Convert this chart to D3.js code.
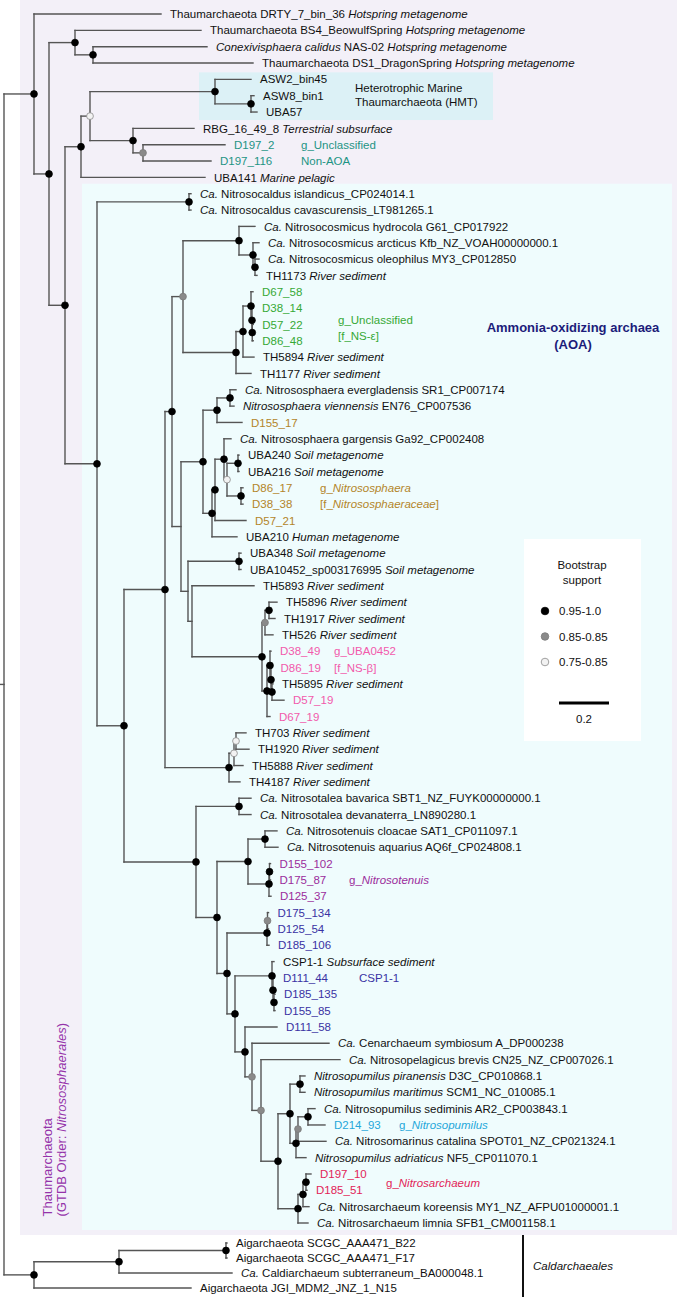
<!DOCTYPE html>
<html><head><meta charset="utf-8">
<script src="https://cdn.jsdelivr.net/npm/d3@7"></script>
<style>
body{margin:0;background:#fff}
svg{display:block}
text{font-family:"Liberation Sans",Arial,sans-serif}
</style>
</head><body>
<svg id="c" width="685" height="1297"></svg>
<script>
// ---------------- DATA ----------------
// Tree topology (Newick). Leaf names are indices into leafNames; internal labels = bootstrap class
// B = 0.95-1.0, G = 0.85-0.85, W = 0.75-0.85
const cladeN2   = "(1:0.504,(2:0.456,3:0.64)B:0.072)B:0.104";
const cladeHMT  = "(4:0.144,(5:0.012,6:0.024)B:0.144)B:0.5";
const cladeRBG  = "(7:0.244,(8:0.328,9:0.272)G:0.04)B:0.172";
const cladeN4   = `((${cladeHMT},${cladeRBG})W:0.036,10:0.496)B:0.064`;
const cladeNC   = "(13:0.064,(14:0.024,(15:0.016,16:0.008)B:0.008)B:0.056)B:0.224";
const cladeNS   = "(((17:0.008,(18:0.004,(19:0.004,20:0.004)B:0.001)B:0.004)B:0.032,21:0.044)B:0.028,22:0.06)B:0.212";
const cladeG1   = `(${cladeNC},${cladeNS})G:0.044`;
const clade217  = "((23:0.024,24:0.016)B:0.052,25:0.1)B:0.056";
const clade212  = "(((26:0.028,((27:0.004,28:0.004)B:0.044,(29:0.008,30:0.008)B:0.056)W:0.012)B:0.036,31:0.124)B:0.012,32:0.1)B:0.036";
const cladeP1   = "((39:0.004,(40:0.002,(41:0.004,42:0.048)B:0.004)B:0.004)B:0.012,43:0.012)B:0.02";
const cladeH    = `(((36:0.032,37:0.024)B:0.016,38:0.032)G:0.012,${cladeP1})B:0.28`;
const cladeE    = `((33:0.008,34:0.008)B:0.204,(35:0.248,${cladeH}):0.016):0.028`;
const cladeD    = `((${clade217},${clade212})B:0.088,${cladeE}):0.036`;
const cladeC    = `(${cladeG1},${cladeD})B:0.028`;
const cladeTH   = "(((44:0.04,45:0.052)W:0.008,46:0.036)W:0.02,47:0.044)B:0.256";
const cladeK    = "((50:0.048,51:0.052)B:0.068,((52:0.004,53:0.004)B:0.002,54:0.008)B:0.084)B:0.124";
const cladeBK   = "((55:0.004,56:0.004)G:0.002,57:0.008)B:0.16";
const cladeCSP  = "(58:0.008,(59:0.004,(60:0.004,61:0.004)B:0.004)B:0.004)B:0.148";
const cladeS    = "((65:0.02,66:0.02)B:0.04,(((67:0.028,68:0.068)B:0.04,69:0.112)G:0.008,70:0.04)B:0.024)B:0.048";
const cladeV    = "(((71:0.02,72:0.004)B:0.012,73:0.024)B:0.02,74:0.04)B:0.08";
const cladeO    = `(63:0.308,(64:0.316,(${cladeS},${cladeV})B:0.068)G:0.036)G:0.028`;
const cladeL    = `(${cladeBK},(${cladeCSP},(62:0.128,${cladeO})B:0.04)B:0.032)B:0.04`;
const cladeI    = `((48:0.048,49:0.048)B:0.172,(${cladeK},${cladeL})B:0.084)B:0.288`;
const cladeA1   = `((${cladeC},${cladeTH})B:0.164,${cladeI})B:0.108`;
const cladeA0   = `((11:0.008,12:0.008)B:0.368,${cladeA1})B:0.128`;
const cladeT    = `(0:0.508,(${cladeN2},(${cladeN4},${cladeA0})B:0.064)B:0.06)B:0.12`;
const cladeAig  = "(((75:0.004,76:0.004)B:0.428,77:0.452)B:0.34,78:0.628)B:0.12";
const newick    = `(${cladeT},${cladeAig});`;

// Leaf labels (*...* = italic)
const leafNames = [
 "Thaumarchaeota DRTY_7_bin_36 *Hotspring metagenome*",
 "Thaumarchaeota BS4_BeowulfSpring *Hotspring metagenome*",
 "*Conexivisphaera calidus* NAS-02 *Hotspring metagenome*",
 "Thaumarchaeota DS1_DragonSpring *Hotspring metagenome*",
 "ASW2_bin45","ASW8_bin1","UBA57",
 "RBG_16_49_8 *Terrestrial subsurface*",
 "D197_2","D197_116",
 "UBA141 *Marine pelagic*",
 "*Ca.* Nitrosocaldus islandicus_CP024014.1",
 "*Ca.* Nitrosocaldus cavascurensis_LT981265.1",
 "*Ca.* Nitrosocosmicus hydrocola G61_CP017922",
 "*Ca.* Nitrosocosmicus arcticus Kfb_NZ_VOAH00000000.1",
 "*Ca.* Nitrosocosmicus oleophilus MY3_CP012850",
 "TH1173 *River sediment*",
 "D67_58","D38_14","D57_22","D86_48",
 "TH5894 *River sediment*","TH1177 *River sediment*",
 "*Ca.* Nitrososphaera evergladensis SR1_CP007174",
 "*Nitrososphaera viennensis* EN76_CP007536",
 "D155_17",
 "*Ca.* Nitrososphaera gargensis Ga92_CP002408",
 "UBA240 *Soil metagenome*","UBA216 *Soil metagenome*",
 "D86_17","D38_38","D57_21",
 "UBA210 *Human metagenome*",
 "UBA348 *Soil metagenome*","UBA10452_sp003176995 *Soil metagenome*",
 "TH5893 *River sediment*","TH5896 *River sediment*","TH1917 *River sediment*","TH526 *River sediment*",
 "D38_49","D86_19","TH5895 *River sediment*","D57_19","D67_19",
 "TH703 *River sediment*","TH1920 *River sediment*","TH5888 *River sediment*","TH4187 *River sediment*",
 "*Ca.* Nitrosotalea bavarica SBT1_NZ_FUYK00000000.1",
 "*Ca.* Nitrosotalea devanaterra_LN890280.1",
 "*Ca.* Nitrosotenuis cloacae SAT1_CP011097.1",
 "*Ca.* Nitrosotenuis aquarius AQ6f_CP024808.1",
 "D155_102","D175_87","D125_37",
 "D175_134","D125_54","D185_106",
 "CSP1-1 *Subsurface sediment*",
 "D111_44","D185_135","D155_85","D111_58",
 "*Ca.* Cenarchaeum symbiosum A_DP000238",
 "*Ca.* Nitrosopelagicus brevis CN25_NZ_CP007026.1",
 "*Nitrosopumilus piranensis* D3C_CP010868.1",
 "*Nitrosopumilus maritimus* SCM1_NC_010085.1",
 "*Ca.* Nitrosopumilus sediminis AR2_CP003843.1",
 "D214_93",
 "*Ca.* Nitrosomarinus catalina SPOT01_NZ_CP021324.1",
 "*Nitrosopumilus adriaticus* NF5_CP011070.1",
 "D197_10","D185_51",
 "*Ca.* Nitrosarchaeum koreensis MY1_NZ_AFPU01000001.1",
 "*Ca.* Nitrosarchaeum limnia SFB1_CM001158.1",
 "Aigarchaeota SCGC_AAA471_B22",
 "Aigarchaeota SCGC_AAA471_F17",
 "*Ca.* Caldiarchaeum subterraneum_BA000048.1",
 "Aigarchaeota JGI_MDM2_JNZ_1_N15"
];
// colour group of selected leaves (others black)
const leafGroups = {
 teal:[8,9], green:[17,18,19,20], ochre:[25,29,30,31], pink:[39,40,42,43],
 purple:[52,53,54], indigo:[55,56,57,59,60,61,62], cyan:[68], red:[71,72]
};
const groupColors = {
 black:"#111", teal:"#1d9484", green:"#36a936", ochre:"#b3852a", pink:"#f25aab",
 purple:"#9b2c9c", indigo:"#3a32a3", cyan:"#25a7da", red:"#e22458", navy:"#1c1c7a", order:"#9533aa"
};
// clade annotations: text, leaf row, colour group
const annotations = [
 {t:"Heterotrophic Marine", row:4.5, g:"black"},
 {t:"Thaumarchaeota (HMT)", row:5.4, g:"black"},
 {t:"g_Unclassified", row:8, g:"teal"},
 {t:"Non-AOA", row:9, g:"teal"},
 {t:"g_Unclassified", row:18.7, g:"green"},
 {t:"[f_NS-ε]", row:19.7, g:"green"},
 {t:"g_*Nitrososphaera*", row:29, g:"ochre"},
 {t:"[f_*Nitrososphaeraceae*]", row:30, g:"ochre"},
 {t:"g_UBA0452", row:39, g:"pink"},
 {t:"[f_NS-β]", row:40, g:"pink"},
 {t:"g_*Nitrosotenuis*", row:53, g:"purple"},
 {t:"CSP1-1", row:59, g:"indigo"},
 {t:"g_*Nitrosopumilus*", row:68, g:"cyan"},
 {t:"g_*Nitrosarchaeum*", row:71.55, g:"red"}
];
const annotX = [355,355,301,301,338,338,320,320,334,334,349,359,399,386];
const supportClasses = ["B","G","W"];
const supportLabels  = ["0.95-1.0","0.85-0.85","0.75-0.85"];
const scaleBarValue = 0.2;

// ---------------- PARSER ----------------
function parseNewick(s){
  let i=0;
  function node(){
    const n={};
    if(s[i]==='('){
      n.children=[]; i++;
      n.children.push(node());
      while(s[i]===','){i++; n.children.push(node());}
      i++;
    }
    let name='';
    while(i<s.length && !',:();'.includes(s[i])) name+=s[i++];
    n.name=name;
    n.length=0;
    if(s[i]===':'){i++; let num=''; while(i<s.length && !',();'.includes(s[i])) num+=s[i++]; n.length=+num;}
    return n;
  }
  return node();
}

// ---------------- LAYOUT ----------------
const svg=d3.select('#c');
const xS=d3.scaleLinear().domain([0,1]).range([4,254]);
const yS=d3.scaleLinear().domain([0,74,75,78]).range([14,1223,1243,1288]);
const root=d3.hierarchy(parseNewick(newick));
root.each(d=>{d.dist=(d.parent?d.parent.dist:0)+d.data.length;});
root.eachAfter(d=>{
  if(d.children){d.yy=(d.children[0].yy+d.children[d.children.length-1].yy)/2;}
  else d.yy=yS(+d.data.name);
});
const colorOf={};
Object.entries(leafGroups).forEach(([g,arr])=>arr.forEach(i=>colorOf[i]=g));

// ---------------- BACKGROUNDS ----------------
const bg=svg.append('g');
bg.append('rect').attr('x',20).attr('y',0).attr('width',657).attr('height',yS(74)+12).attr('fill','#f3f0f8');
bg.append('rect').attr('x',82).attr('y',yS(11)-10).attr('width',590).attr('height',yS(74)+7-(yS(11)-10)).attr('fill','#effcfd');
bg.append('rect').attr('x',199).attr('y',yS(4)-7).attr('width',294).attr('height',yS(6)+8-(yS(4)-7)).attr('fill','#dcf1f6');

// ---------------- BRANCHES ----------------
const br=svg.append('g').attr('stroke','#555').attr('stroke-width',1.4).attr('fill','none').attr('stroke-linecap','square');
root.descendants().forEach(d=>{
  if(d.parent){
    br.append('line').attr('x1',xS(d.parent.dist)).attr('x2',xS(d.dist)).attr('y1',d.yy).attr('y2',d.yy);
  }
  if(d.children){
    br.append('line').attr('x1',xS(d.dist)).attr('x2',xS(d.dist))
      .attr('y1',d.children[0].yy).attr('y2',d.children[d.children.length-1].yy);
  }
});
br.append('line').attr('x1',0).attr('x2',xS(0)).attr('y1',root.yy).attr('y2',root.yy);

// ---------------- SUPPORT DOTS ----------------
const dotFill={B:"#000",G:"#8a8a8a",W:"#f2f2f2"};
const dotStroke={B:"#000",G:"#7a7a7a",W:"#8a8a8a"};
svg.append('g').selectAll('circle').data(root.descendants().filter(d=>d.children&&supportClasses.includes(d.data.name)))
  .join('circle').attr('cx',d=>xS(d.dist)).attr('cy',d=>d.yy).attr('r',3.4)
  .attr('fill',d=>dotFill[d.data.name]).attr('stroke',d=>dotStroke[d.data.name]).attr('stroke-width',0.8);

// ---------------- TEXT HELPERS ----------------
function rich(sel,str){
  str.split('*').forEach((seg,k)=>{ if(seg.length) sel.append('tspan').attr('font-style',k%2?'italic':null).text(seg); });
}

// ---------------- LEAF LABELS ----------------
const lab=svg.append('g').attr('font-size',11.5);
root.leaves().forEach(d=>{
  const i=+d.data.name;
  const t=lab.append('text').attr('x',xS(d.dist)+9).attr('y',d.yy).attr('dy','0.36em')
    .attr('fill',groupColors[colorOf[i]||'black']);
  rich(t,leafNames[i]);
});

// ---------------- ANNOTATIONS ----------------
annotations.forEach((a,k)=>{
  const t=lab.append('text').attr('x',annotX[k]).attr('y',yS(a.row)).attr('dy','0.36em').attr('fill',groupColors[a.g]);
  rich(t,a.t);
});
const aoa=svg.append('g').attr('font-size',13).attr('font-weight','bold').attr('fill',groupColors.navy).attr('text-anchor','middle');
aoa.append('text').attr('x',573).attr('y',yS(19.15)).attr('dy','0.36em').text('Ammonia-oxidizing archaea');
aoa.append('text').attr('x',573).attr('y',yS(20.2)).attr('dy','0.36em').text('(AOA)');

// order label (rotated)
const ord=svg.append('g').attr('font-size',13).attr('fill',groupColors.order);
ord.append('text').attr('transform',`translate(52,${yS(73.6)}) rotate(-90)`).text('Thaumarchaeota');
const o2=ord.append('text').attr('transform',`translate(66,${yS(73.6)}) rotate(-90)`);
rich(o2,'(GTDB Order: *Nitrososphaerales*)');

// Caldarchaeales bar
svg.append('line').attr('x1',523).attr('x2',523).attr('y1',yS(74)+12).attr('y2',1297).attr('stroke','#111').attr('stroke-width',2);
svg.append('text').attr('x',533).attr('y',yS(76.5)).attr('dy','0.36em').attr('font-size',11.5).attr('font-style','italic').attr('fill','#111').text('Caldarchaeales');

// ---------------- LEGEND ----------------
const lg=svg.append('g').attr('font-size',11.5).attr('fill','#111');
lg.append('rect').attr('x',524).attr('y',539).attr('width',117).attr('height',202).attr('fill','#fff');
lg.append('text').attr('x',582).attr('y',565).attr('dy','0.36em').attr('text-anchor','middle').text('Bootstrap');
lg.append('text').attr('x',582).attr('y',580).attr('dy','0.36em').attr('text-anchor','middle').text('support');
const ly=d3.scalePoint().domain(supportClasses).range([611,662]);
supportClasses.forEach((c,k)=>{
  lg.append('circle').attr('cx',545).attr('cy',ly(c)).attr('r',3.8).attr('fill',dotFill[c]).attr('stroke',dotStroke[c]).attr('stroke-width',0.8);
  lg.append('text').attr('x',559).attr('y',ly(c)).attr('dy','0.36em').text(supportLabels[k]);
});
const barW=xS(scaleBarValue)-xS(0);
lg.append('line').attr('x1',584-barW/2).attr('x2',584+barW/2).attr('y1',703).attr('y2',703).attr('stroke','#000').attr('stroke-width',3);
lg.append('text').attr('x',584).attr('y',719).attr('dy','0.36em').attr('text-anchor','middle').text(String(scaleBarValue));
</script>
</body></html>
